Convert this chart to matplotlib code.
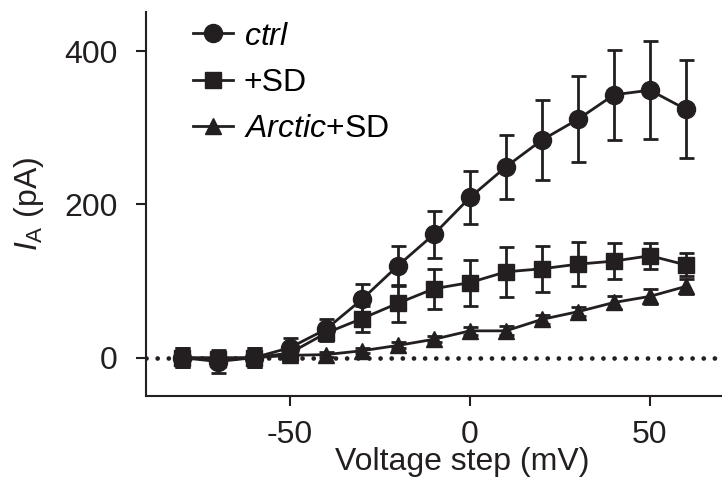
#!/usr/bin/env python3
"""A-type current vs voltage step, three conditions, mean +/- SEM."""
import matplotlib
matplotlib.use("Agg")
import matplotlib.pyplot as plt

plt.rcParams["font.family"] = ["Liberation Sans", "DejaVu Sans"]
plt.rcParams["mathtext.fontset"] = "custom"
plt.rcParams["mathtext.rm"] = "Liberation Sans"
plt.rcParams["mathtext.it"] = "Liberation Sans:italic"
plt.rcParams["axes.unicode_minus"] = False

voltage = [-80, -70, -60, -50, -40, -30, -20, -10, 0, 10, 20, 30, 40, 50, 60]

ctrl = [0, -5, 0, 13, 37, 76, 120, 161, 209, 249, 284, 311, 343, 349, 324]
ctrl_err = [12, 15, 12, 13, 14, 20, 26, 31, 35, 42, 52, 56, 59, 64, 64]

sd = [0, -2, 0, 6, 32, 51, 71, 90, 98, 112, 116, 122, 126, 133, 121]
sd_err = [12, 10, 12, 8, 10, 17, 24, 26, 30, 33, 30, 29, 23, 17, 15]

arctic = [0, 0, 0, 3, 4, 9, 16, 24, 35, 35, 50, 60, 72, 80, 93]
arctic_err = [3, 3, 3, 3, 3, 3, 4, 4, 5, 6, 6, 6, 8, 10, 10]

labels = [r"$\mathit{ctrl}$", "+SD", r"$\mathit{Arctic}$+SD"]
INK = "#231f20"
FS = 23


def main() -> None:
    fig = plt.figure(figsize=(7.22, 4.8), dpi=100)
    ax = fig.add_axes([0.202, 0.175, 0.798, 0.80])

    # zero reference, dotted
    ax.axhline(0, color=INK, lw=3.4, ls=(0, (0.01, 2.35)), dash_capstyle="round",
               zorder=1)

    series = [(ctrl, ctrl_err, "o", 13), (sd, sd_err, "s", 12), (arctic, arctic_err, "^", 12)]
    handles = []
    for (y, e, m, ms), lab in zip(series, labels):
        ax.errorbar(voltage, y, yerr=e, fmt="none", ecolor=INK, elinewidth=2,
                    capsize=5.4, capthick=2, zorder=2)
        h, = ax.plot(voltage, y, marker=m, ms=ms, color=INK, lw=2,
                     mec=INK, mfc=INK, label=lab, zorder=3)
        handles.append(h)

    ax.set_xlim(-90, 70)
    ax.set_ylim(-50, 451)
    ax.set_xticks([-50, 0, 50])
    ax.set_yticks([0, 200, 400])
    for s in ("top", "right"):
        ax.spines[s].set_visible(False)
    for s in ("left", "bottom"):
        ax.spines[s].set_linewidth(1.5)
        ax.spines[s].set_color(INK)
    ax.tick_params(direction="out", length=7.5, width=1.5, color=INK,
                   labelsize=FS, labelcolor=INK)
    ax.tick_params(axis="x", pad=9.5)
    ax.tick_params(axis="y", pad=13)

    ax.set_xlabel("Voltage step (mV)", fontsize=FS, color=INK, labelpad=-2)
    ax.xaxis.label.set_x(0.55)  # centred under 0, not under the axes
    ax.set_ylabel(r"$I_{\mathrm{A}}$ (pA)", fontsize=FS, color=INK, labelpad=13)

    ax.legend(handles=handles, loc="upper left", bbox_to_anchor=(0.267, 0.955),
              bbox_transform=fig.transFigure, frameon=False, fontsize=FS,
              handlelength=1.25, handletextpad=0.35, labelspacing=0.51,
              borderaxespad=0, borderpad=0)

    fig.savefig("out.png")


if __name__ == "__main__":
    main()
